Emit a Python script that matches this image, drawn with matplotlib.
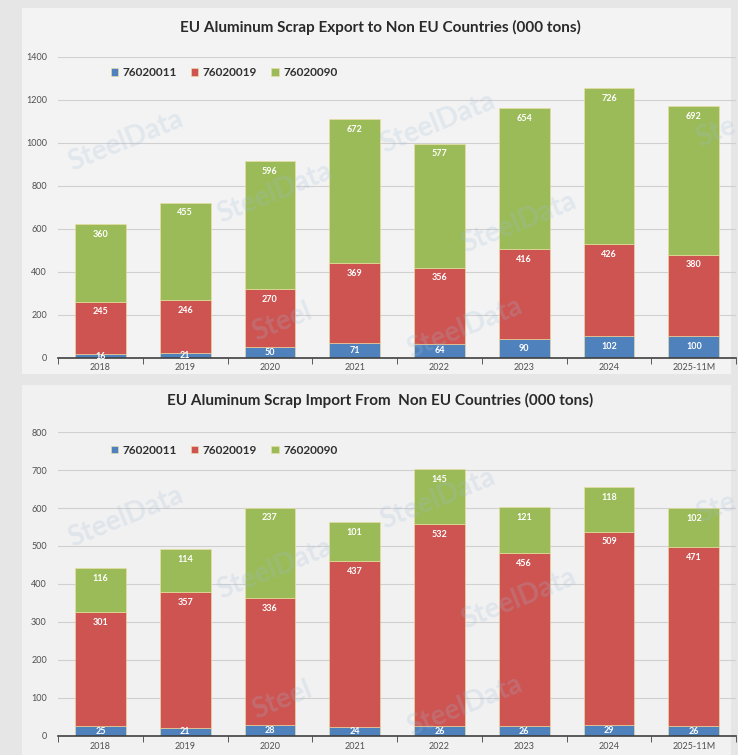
import matplotlib.pyplot as plt
import numpy as np

# categories
years = ['2018', '2019', '2020', '2021', '2022', '2023', '2024', '2025-11M']
codes = ['76020011', '76020019', '76020090']

# export to non EU (000 tons)
exp_011 = [16, 21, 50, 71, 64, 90, 102, 100]
exp_019 = [245, 246, 270, 369, 356, 416, 426, 380]
exp_090 = [360, 455, 596, 672, 577, 654, 726, 692]

# import from non EU (000 tons)
imp_011 = [25, 21, 28, 24, 26, 26, 29, 26]
imp_019 = [301, 357, 336, 437, 532, 456, 509, 471]
imp_090 = [116, 114, 237, 101, 145, 121, 118, 102]

colors = ['#4f81bd', '#cd5451', '#9bbb59']

plt.rcParams['font.family'] = ['Lato', 'DejaVu Sans']

fig = plt.figure(figsize=(7.38, 7.55), dpi=100)
fig.patch.set_facecolor('#e6e6e6')

# lighter panel backgrounds
fig.patches.append(plt.Rectangle((0.03, 0.505), 0.96, 0.485, transform=fig.transFigure,
                                 facecolor='#f3f3f3', edgecolor='none', zorder=-1))
fig.patches.append(plt.Rectangle((0.03, 0.0), 0.96, 0.49, transform=fig.transFigure,
                                 facecolor='#f1f1f1', edgecolor='none', zorder=-1))


def draw(ax, series, ymax, step, title, ty, leg_y):
    x = np.arange(len(years))
    bottom = np.zeros(len(years))
    off = 0.034 * ymax
    for vals, c, lab in zip(series, colors, codes):
        vals = np.array(vals, dtype=float)
        ax.bar(x, vals, 0.6, bottom=bottom, color=c, label=lab, zorder=2,
               edgecolor='#f0e0a0', linewidth=0.4)
        for xi, b, v in zip(x, bottom, vals):
            top = b + v
            ax.text(xi, top - min(off, v / 2), str(int(v)), ha='center', va='center',
                    color='white', fontsize=6.5, fontweight='bold', zorder=4)
        bottom += vals
    ax.set_xlim(-0.5, 7.5)
    ax.set_ylim(0, ymax)
    ax.set_yticks(np.arange(0, ymax + 1, step))
    ax.set_facecolor('none')
    ax.grid(axis='y', color='#d0d0d0', linewidth=0.8, zorder=0)
    for s in ['top', 'right', 'left']:
        ax.spines[s].set_visible(False)
    ax.spines['bottom'].set_color('#404040')
    ax.spines['bottom'].set_linewidth(1.2)
    ax.spines['bottom'].set_zorder(3)
    ax.set_xticks(x)
    ax.set_xticklabels(years)
    ax.set_xticks(np.arange(-0.5, 8, 1), minor=True)
    ax.tick_params(axis='x', which='major', length=0, labelsize=6.5, colors='#505050', pad=4)
    ax.tick_params(axis='x', which='minor', length=4, color='#404040', direction='out')
    ax.tick_params(axis='y', length=0, labelsize=6.5, colors='#505050', pad=8)
    leg = ax.legend(loc='center', bbox_to_anchor=(0.245, leg_y), ncol=3, frameon=False,
                    handlelength=0.6, handleheight=0.6, handletextpad=0.4, columnspacing=1.2,
                    prop={'size': 8.5, 'weight': 'bold'})
    for t in leg.get_texts():
        t.set_color('#303030')
    fig.text(0.515, ty, title, ha='center', va='center', fontsize=11, fontweight='bold',
             color='#2a2a2a')
    # faint watermarks
    for (wx, wy, w) in [(0.1, 0.72, 'SteelData'), (0.32, 0.55, 'SteelData'),
                        (0.56, 0.78, 'SteelData'), (0.68, 0.45, 'SteelData'),
                        (0.33, 0.12, 'Steel'), (0.6, 0.1, 'SteelData'), (0.97, 0.75, 'Ste')]:
        ax.text(wx, wy, w, transform=ax.transAxes, rotation=22, fontsize=20,
                fontweight='bold', color='#9fbcd8', alpha=0.22, zorder=5,
                ha='center', va='center')


ax1 = fig.add_axes([0.0786, 0.526, 0.919, 0.3987])
draw(ax1, [exp_011, exp_019, exp_090], 1400, 200,
     'EU Aluminum Scrap Export to Non EU Countries (000 tons)', 0.964, 0.947)

ax2 = fig.add_axes([0.0786, 0.0252, 0.919, 0.4026])
draw(ax2, [imp_011, imp_019, imp_090], 800, 100,
     'EU Aluminum Scrap Import From  Non EU Countries (000 tons)', 0.47, 0.94)

fig.savefig('out.png', dpi=100, facecolor=fig.get_facecolor())
